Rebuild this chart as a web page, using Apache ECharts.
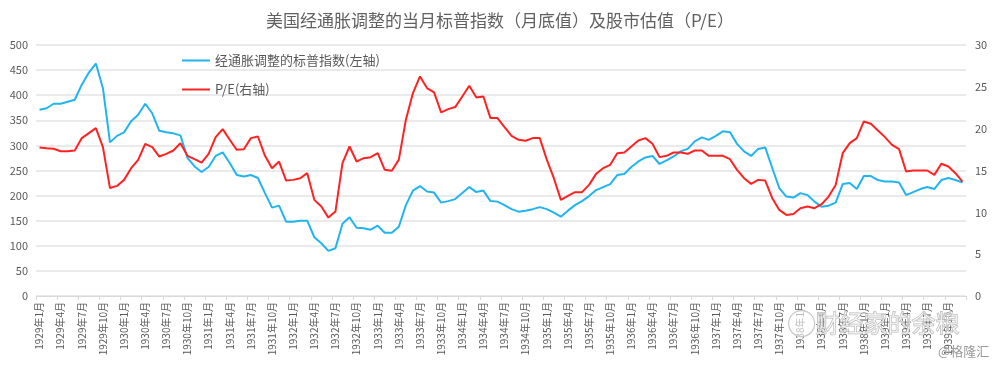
<!DOCTYPE html>
<html><head><meta charset="utf-8">
<script src="https://cdn.jsdelivr.net/npm/echarts@6/dist/echarts.min.js"></script>
<style>html,body{margin:0;padding:0;background:#fff}</style>
</head><body>
<div id="c" style="width:1000px;height:368px"></div>
<script>
// categories: month-end dates 1929-01 .. 1939-12
const years = [1929,1930,1931,1932,1933,1934,1935,1936,1937,1938,1939];
const monthNames = ['1月','2月','3月','4月','5月','6月','7月','8月','9月','10月','11月','12月'];
const categories = [];
years.forEach(y => monthNames.forEach(m => categories.push(y + '年' + m)));

// inflation-adjusted S&P index (left axis)
const spReal = [
371,374,383,383,387,391,421,445,463,414,306,319,
326,348,361,383,364,329,326,324,320,275,258,247,
257,279,286,265,241,238,241,235,205,176,180,148,
148,150,150,117,105,90,95,144,157,136,135,132,
140,126,126,138,181,210,219,208,206,186,189,193,
205,217,207,210,189,188,181,173,168,170,173,177,
173,166,158,170,181,189,199,211,217,223,241,243,
257,268,276,279,263,270,278,288,293,308,316,311,
319,328,326,303,288,279,293,296,255,215,198,196,
205,201,188,178,180,186,223,225,213,239,239,231,
228,228,226,201,207,213,217,213,231,235,231,226
];

// P/E (right axis)
const peRatio = [
17.75,17.67,17.6,17.3,17.3,17.4,18.87,19.47,20.07,17.8,12.9,13.16,
13.88,15.28,16.27,18.19,17.79,16.67,16.99,17.39,18.27,16.75,16.35,15.95,
16.99,18.99,19.95,18.67,17.47,17.55,18.87,19.06,16.75,15.28,16.07,13.8,
13.88,14.08,14.68,11.49,10.69,9.37,10.09,15.88,17.87,16.07,16.47,16.59,
17.07,15.08,14.96,16.3,21.06,24.25,26.24,24.85,24.33,21.94,22.34,22.58,
23.85,25.13,23.73,23.85,21.26,21.26,20.19,19.15,18.67,18.55,18.87,18.87,
16.3,14.08,11.49,11.97,12.41,12.41,13.28,14.6,15.28,15.68,17.07,17.15,
17.87,18.59,18.87,18.19,16.6,16.75,17.15,17.15,16.99,17.39,17.39,16.75,
16.75,16.75,16.35,15.08,14.08,13.4,13.88,13.8,11.69,10.29,9.69,9.81,
10.49,10.69,10.49,10.97,11.88,13.28,17.07,18.27,18.87,20.86,20.58,19.78,
18.99,18.07,17.55,14.88,14.99,15.0,15.0,14.48,15.8,15.48,14.68,13.68
];

const titleText = '美国经通胀调整的当月标普指数（月底值）及股市估值（P/E）';
const seriesNames = ['经通胀调整的标普指数(左轴)', 'P/E(右轴)'];

const FONT = '"Noto Sans CJK SC", "Noto Sans", sans-serif';
const chart = echarts.init(document.getElementById('c'), null, {renderer: 'canvas'});
chart.setOption({
  animation: false,
  backgroundColor: '#ffffff',
  textStyle: {fontFamily: FONT},
  title: {
    text: titleText,
    left: 'center',
    top: 7,
    textStyle: {fontSize: 17, fontWeight: 'normal', color: '#606060', fontFamily: FONT}
  },
  legend: {
    orient: 'vertical',
    left: 182,
    top: 53,
    padding: 0,
    icon: 'rect',
    itemWidth: 28,
    itemHeight: 2,
    itemGap: 14,
    textStyle: {fontSize: 13, lineHeight: 15, color: '#595959', fontFamily: FONT},
    data: seriesNames
  },
  grid: {left: 36, right: 34, top: 45, bottom: 72, containLabel: false},
  xAxis: {
    type: 'category',
    data: categories,
    boundaryGap: true,
    axisLine: {lineStyle: {color: '#d9d9d9', width: 1}},
    axisTick: {show: true, interval: 2, length: 4, lineStyle: {color: '#d9d9d9'}},
    axisLabel: {interval: 2, rotate: 90, fontSize: 10, color: '#595959', margin: 6, fontFamily: FONT}
  },
  yAxis: [
    {
      type: 'value', min: 0, max: 500, interval: 50,
      axisLine: {show: false}, axisTick: {show: false},
      axisLabel: {fontSize: 11, color: '#595959', margin: 8},
      splitLine: {lineStyle: {color: '#e3e3e3', width: 1.5}}
    },
    {
      type: 'value', min: 0, max: 30, interval: 5,
      axisLine: {show: false}, axisTick: {show: false},
      axisLabel: {fontSize: 11, color: '#595959', margin: 9},
      splitLine: {show: false}
    }
  ],
  series: [
    {
      name: seriesNames[0], type: 'line', yAxisIndex: 0, data: spReal,
      symbol: 'none', lineStyle: {color: '#22B4EE', width: 2}, itemStyle: {color: '#22B4EE'}
    },
    {
      name: seriesNames[1], type: 'line', yAxisIndex: 1, data: peRatio,
      symbol: 'none', lineStyle: {color: '#FF2222', width: 2}, itemStyle: {color: '#FF2222'}
    }
  ],
  graphic: [
    {type: 'circle', left: 788, top: 310, shape: {r: 13}, style: {fill: 'rgba(255,255,255,0.6)', stroke: '#c8c8c8', lineWidth: 1.2}, z: 100},
    {type: 'text', left: 815, top: 310, z: 100,
      style: {text: '财经家的余粮', fontSize: 24, fontFamily: FONT, fill: 'rgba(255,255,255,0.5)', stroke: '#b8b8b8', lineWidth: 1}},
    {type: 'text', left: 938, top: 345, z: 100,
      style: {text: '@格隆汇', fontSize: 13, fontFamily: FONT, fill: '#9a9a9a'}}
  ]
});
</script>
</body></html>
